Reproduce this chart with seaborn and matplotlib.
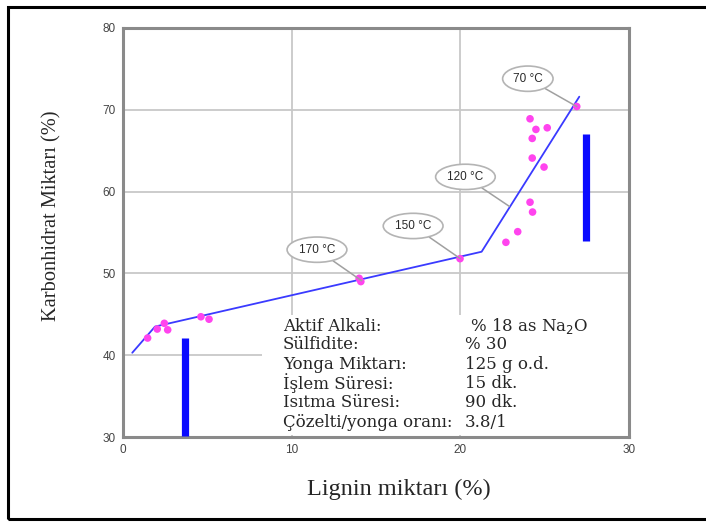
import matplotlib
matplotlib.use("Agg", force=True)
import matplotlib.pyplot as plt
from matplotlib.patches import Rectangle
import pandas as pd
import seaborn as sns

# measured points (lignin %, carbohydrate %)
LIGNIN = [1.46, 2.03, 2.45, 2.65, 4.62, 5.10, 14.0, 14.1, 19.98,
          22.7, 23.4, 24.13, 24.28, 24.96, 24.26, 24.26, 25.15, 24.48, 24.13, 26.9]
CARB = [42.1, 43.2, 43.9, 43.1, 44.7, 44.4, 49.4, 49.0, 51.8,
        53.8, 55.1, 58.7, 57.5, 63.0, 64.1, 66.5, 67.8, 67.6, 68.9, 70.4]

# fitted trend (three-phase delignification)
TREND_X = [0.55, 1.9, 21.26, 27.05]
TREND_Y = [40.3, 43.5, 52.65, 71.6]

# vertical bars marking phase limits
BAR_X = [3.67, 27.45]
BAR_LOW = [30.1, 53.9]
BAR_HIGH = [42.1, 67.0]

# temperature callouts: label, point, label position
TEMP_LABELS = ["70 °C", "120 °C", "150 °C", "170 °C"]
TEMP_POINT = [(26.9, 70.4), (22.9, 58.2), (20.0, 51.8), (14.15, 49.1)]
TEMP_TEXT = [(24.0, 73.8), (20.3, 61.8), (17.2, 55.8), (11.5, 52.9)]

CONDITION_NAMES = ["Aktif Alkali:", "Sülfidite:", "Yonga Miktarı:", "İşlem Süresi:",
                   "Isıtma Süresi:", "Çözelti/yonga oranı:"]
CONDITION_VALUES = ["% 18 as Na$_2$O", "% 30", "125 g o.d.", "15 dk.", "90 dk.", "3.8/1"]

sns.set_style("white")
plt.rcParams["font.family"] = ["Liberation Sans", "DejaVu Sans"]

fig = plt.figure(figsize=(7.06, 5.23), dpi=100)
ax = fig.add_axes([0.1742, 0.1644, 0.891 - 0.1742, 0.9465 - 0.1644])

ax.set_xlim(0, 30)
ax.set_ylim(30, 80)
ax.set_xticks([0, 10, 20, 30])
ax.set_yticks([30, 40, 50, 60, 70, 80])
ax.grid(True, color="#c8c8c8", linewidth=1.3)
ax.set_axisbelow(True)
for side, spine in ax.spines.items():
    spine.set_color("#8a8a8a")
    spine.set_linewidth(2.2)
ax.tick_params(axis="both", direction="out", length=4, width=1, color="#8a8a8a",
               labelsize=8.5, labelcolor="#444444", pad=1)

# white panel holding the cooking conditions (hides grid beneath)
ax.add_patch(Rectangle((8.24, 30.2), 21.76, 14.7, facecolor="white", edgecolor="none", zorder=1.5))

trend = pd.DataFrame({"x": TREND_X, "y": TREND_Y})
sns.lineplot(data=trend, x="x", y="y", color="#3a3aff", linewidth=1.3, sort=False, ax=ax, zorder=3)

points = pd.DataFrame({"lignin": LIGNIN, "carb": CARB})
sns.scatterplot(data=points, x="lignin", y="carb", color="#ff44ee", s=30, edgecolor="none",
                ax=ax, zorder=4)

for bx, lo, hi in zip(BAR_X, BAR_LOW, BAR_HIGH):
    ax.vlines(bx, lo, hi, color="#0a0aff", linewidth=5.2, zorder=3)

for label, pt, txt in zip(TEMP_LABELS, TEMP_POINT, TEMP_TEXT):
    ax.annotate(label, xy=pt, xytext=txt, ha="center", va="center", fontsize=8.5,
                color="#2a2a2a", zorder=5,
                bbox=dict(boxstyle="ellipse,pad=0.25", facecolor="white",
                          edgecolor="#b4b4b4", linewidth=1.2),
                arrowprops=dict(arrowstyle="-", color="#a0a0a0", linewidth=1.1,
                                shrinkA=0, shrinkB=0))

row_y = [43.57, 41.25, 38.92, 36.6, 34.16, 31.83]
for name, value, yy in zip(CONDITION_NAMES, CONDITION_VALUES, row_y):
    ax.text(9.48, yy, name, ha="left", va="center", fontsize=12,
            family="DejaVu Serif", zorder=6)
    vx = 20.57 if value.startswith("% 18") else 20.27
    ax.text(vx, yy, value, ha="left", va="center", fontsize=12,
            family="DejaVu Serif", zorder=6)

ax.set_xlabel("Lignin miktarı (%)", fontsize=17.5, family="Liberation Serif")
ax.set_ylabel("Karbonhidrat Miktarı (%)", fontsize=14.7, family="Liberation Serif")
ax.xaxis.label.set_verticalalignment("center")
ax.yaxis.label.set_verticalalignment("center")
ax.xaxis.set_label_coords(0.545, -0.127)
ax.yaxis.set_label_coords(-0.140, 0.540)

# outer frame of the figure (right edge falls outside the picture)
fig.add_artist(Rectangle((8 / 706, 4 / 523), 1.05, 512 / 523, transform=fig.transFigure,
                         facecolor="none", edgecolor="black", linewidth=2.2, clip_on=False))

fig.savefig("out.png", dpi=100)
